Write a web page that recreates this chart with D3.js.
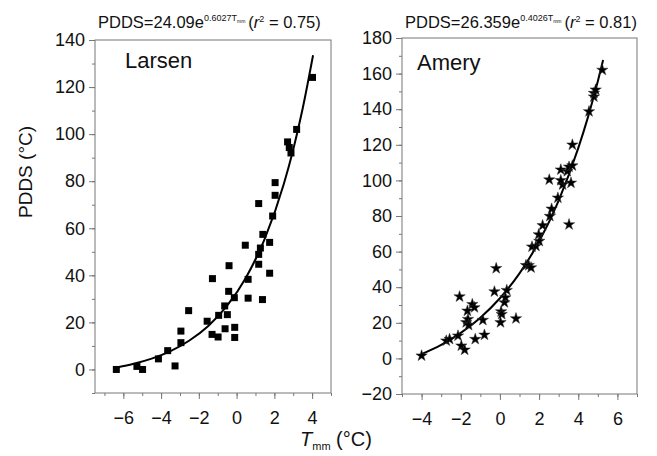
<!DOCTYPE html>
<html>
<head>
<meta charset="utf-8">
<script src="https://cdn.jsdelivr.net/npm/d3@7"></script>
<style>
  body { margin: 0; background: #fff; }
  text { font-family: Arial, "Liberation Sans", sans-serif; fill: #111; }
</style>
</head>
<body>
<div id="chart"></div>
<script>
// Larsen observations (Tmm, PDDS)
var larsenT = [-6.37, -5.28, -4.98, -4.14, -3.65, -3.26, -2.95, -2.95, -2.54, -1.56, -1.28, -1.3, -0.98, -0.95,
  -0.63, -0.61, -0.49, -0.42, -0.4, -0.12, -0.1, -0.1, 0.46, 0.61, 0.61, 1.17, 1.17, 1.26, 1.39, 1.37,
  1.17, 1.75, 1.75, 1.91, 2.04, 2.04, 2.7, 2.79, 2.88, 3.18, 4.02];
var larsenP = [0, 1.3, 0, 4.5, 8, 1.5, 11.4, 16.3, 25, 20.5, 38.6, 14.9, 13.8, 23,
  27, 17.3, 23.3, 33.2, 44.1, 30.5, 17.9, 13.6, 52.8, 38.3, 30.3, 44.7, 48.9, 51.6, 57.4, 29.7,
  70.5, 54, 40.9, 65.2, 79.4, 74, 96.7, 94.3, 92, 102, 124.1];

// Amery observations (Tmm, PDDS)
var ameryT = [-4.0, -2.74, -2.57, -2.14, -2.06, -1.97, -1.8, -1.72, -1.63, -1.66, -1.6, -1.41, -1.3, -1.26,
  -0.87, -0.79, -0.28, -0.19, 0.03, 0.06, 0.09, 0.23, 0.28, 0.35, 0.82, 1.33, 1.47, 1.59, 1.64, 1.84,
  2.01, 1.98, 2.18, 2.55, 2.64, 2.96, 3.2, 2.52, 3.11, 3.11, 3.44, 3.53, 3.7, 3.63, 3.7, 3.53,
  4.55, 4.8, 4.8, 4.89, 5.23];
var ameryP = [1.5, 9.9, 10.8, 12.7, 34.7, 7.1, 4.8, 20.2, 22, 26.7, 18.7, 30.4, 28.6, 10.8,
  21.5, 13.2, 37.5, 50.6, 20.2, 26.3, 24.8, 31.4, 34.2, 38.3, 22.4, 52.3, 52.3, 51, 62.7, 63.1,
  65.9, 69.6, 74.7, 79.9, 84, 90.2, 97.6, 100.4, 100, 106, 105.1, 107.6, 108.3, 98.6, 120, 75.2,
  138.7, 147, 149, 150.9, 162];

// fitted curves
var larsenFitT = [-6.3, -5.5, -4.5, -3.5, -2.5, -1.5, -0.5, 0.5, 1.5, 2.5, 3.0, 3.5, 4.05];
var larsenFitP = [0.9, 2.3, 4.6, 7.8, 12.3, 18.5, 27.1, 39.1, 55.7, 78.8, 93.5, 110.9, 133.5];
var ameryFitT = [-4, -3, -2, -1, 0, 1, 2, 3, 4, 4.5, 5, 5.27];
var ameryFitP = [2.4, 7.6, 14.3, 22.9, 33.8, 47.8, 65.7, 88.7, 118.1, 135.7, 155.7, 167.6];

var larsenYTicks = [0, 20, 40, 60, 80, 100, 120, 140];
var larsenXTicks = [-6, -4, -2, 0, 2, 4];
var ameryYTicks = [-20, 0, 20, 40, 60, 80, 100, 120, 140, 160, 180];
var ameryXTicks = [-4, -2, 0, 2, 4, 6];

var svg = d3.select("#chart").append("svg")
  .attr("width", 657)
  .attr("height", 456);

function panel(o) {
  var x = d3.scaleLinear().domain(o.xDom).range([o.left, o.right]);
  var y = d3.scaleLinear().domain(o.yDom).range([o.bottom, o.top]);
  var g = svg.append("g");

  // minor ticks
  var xMinor = d3.range(Math.ceil(o.xDom[0]), o.xDom[1] + 0.001, 1);
  var yMinor = d3.range(Math.ceil(o.yDom[0] / 10) * 10, o.yDom[1] + 0.001, 10);

  g.append("g")
    .attr("transform", "translate(0," + o.bottom + ")")
    .call(d3.axisBottom(x).tickValues(xMinor).tickSize(3).tickFormat(""))
    .call(function(s) { s.select(".domain").remove(); });
  g.append("g")
    .attr("transform", "translate(" + o.left + ",0)")
    .call(d3.axisLeft(y).tickValues(yMinor).tickSize(3).tickFormat(""))
    .call(function(s) { s.select(".domain").remove(); });

  var xa = g.append("g")
    .attr("transform", "translate(0," + o.bottom + ")")
    .call(d3.axisBottom(x).tickValues(o.xTicks).tickSize(6).tickPadding(12).tickSizeOuter(0));
  xa.select(".domain").remove();
  xa.selectAll("text").attr("font-size", 18).attr("font-family", "Arial, 'Liberation Sans', sans-serif").attr("fill", "#111");

  var ya = g.append("g")
    .attr("transform", "translate(" + o.left + ",0)")
    .call(d3.axisLeft(y).tickValues(o.yTicks).tickSize(6).tickPadding(4).tickSizeOuter(0));
  ya.select(".domain").remove();
  ya.selectAll("text").attr("font-size", 18).attr("font-family", "Arial, 'Liberation Sans', sans-serif").attr("fill", "#111");

  g.selectAll(".tick line").attr("stroke", "#777");

  g.append("rect")
    .attr("x", o.left).attr("y", o.top)
    .attr("width", o.right - o.left).attr("height", o.bottom - o.top)
    .attr("fill", "none").attr("stroke", "#777").attr("stroke-width", 1);

  // fit line
  var line = d3.line()
    .x(function(d, i) { return x(o.fitT[i]); })
    .y(function(d) { return y(d); })
    .curve(d3.curveMonotoneX);
  g.append("path")
    .datum(o.fitP)
    .attr("d", line)
    .attr("fill", "none")
    .attr("stroke", "#000")
    .attr("stroke-width", 2);

  // points
  g.selectAll("path.pt")
    .data(o.P)
    .enter().append("path")
      .attr("class", "pt")
      .attr("d", d3.symbol().type(o.symbol).size(o.size))
      .attr("transform", function(d, i) {
        return "translate(" + x(o.T[i]) + "," + y(d) + ")";
      })
      .attr("fill", "#000")
      .attr("stroke", o.symbol === d3.symbolStar ? "#333" : "none")
      .attr("stroke-width", 0.5);

  g.append("text")
    .attr("x", o.nameX).attr("y", o.nameY)
    .attr("font-size", 22)
    .text(o.name);

  // equation title
  var t = g.append("text")
    .attr("x", o.left + 3).attr("y", 28)
    .attr("font-size", 16.5);
  t.append("tspan").text(o.eqA);
  t.append("tspan").attr("font-size", 9).attr("dy", -7).text(o.eqB + "T");
  t.append("tspan").attr("font-size", 5).attr("dy", 2).text("mm");
  t.append("tspan").attr("dy", 5).attr("dx", 3).text("(");
  t.append("tspan").attr("font-style", "italic").text("r");
  t.append("tspan").attr("font-size", 9).attr("dy", -6).text("2");
  t.append("tspan").attr("dy", 6).text(" = " + o.r2 + ")");
}

panel({
  xDom: [-7.5, 5], yDom: [-10, 140],
  left: 95, right: 331, top: 40, bottom: 393,
  xTicks: larsenXTicks, yTicks: larsenYTicks,
  T: larsenT, P: larsenP, fitT: larsenFitT, fitP: larsenFitP,
  symbol: d3.symbolSquare, size: 49,
  name: "Larsen", nameX: 125, nameY: 68,
  eqA: "PDDS=24.09e", eqB: "0.6027", r2: "0.75"
});

panel({
  xDom: [-5, 7], yDom: [-20, 180],
  left: 402, right: 637, top: 38, bottom: 394,
  xTicks: ameryXTicks, yTicks: ameryYTicks,
  T: ameryT, P: ameryP, fitT: ameryFitT, fitP: ameryFitP,
  symbol: d3.symbolStar, size: 40,
  name: "Amery", nameX: 417, nameY: 70,
  eqA: "PDDS=26.359e", eqB: "0.4026", r2: "0.81"
});

// axis titles
svg.append("text")
  .attr("transform", "translate(32,172) rotate(-90)")
  .attr("text-anchor", "middle")
  .attr("font-size", 19)
  .text("PDDS (°C)");

var xt = svg.append("text")
  .attr("x", 300).attr("y", 446)
  .attr("font-size", 20);
xt.append("tspan").attr("font-style", "italic").text("T");
xt.append("tspan").attr("font-size", 11).attr("dy", 4).text("mm");
xt.append("tspan").attr("dy", -4).text(" (°C)");
</script>
</body>
</html>
